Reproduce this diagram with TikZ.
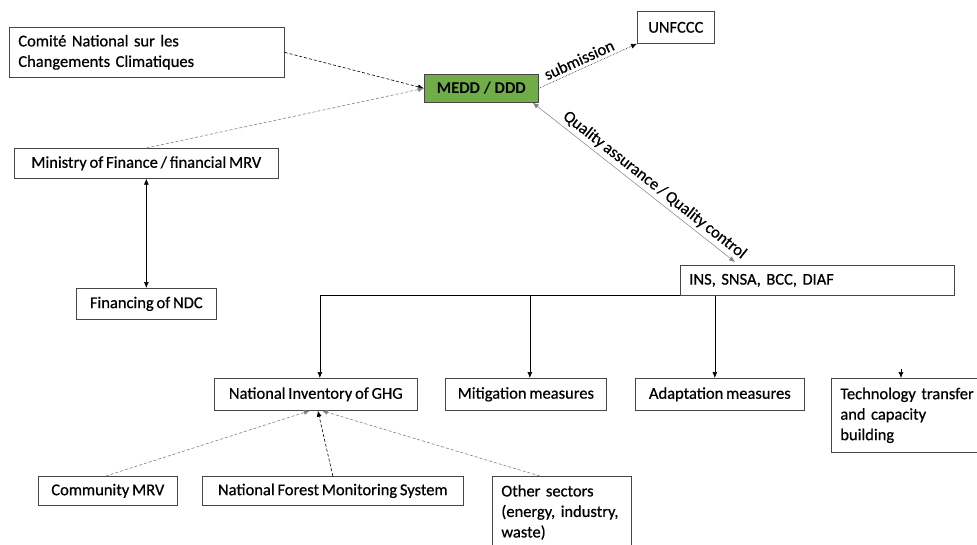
\documentclass[tikz,border=0pt]{standalone}
\usepackage{fontspec}
\setmainfont{Carlito}
\newfontfamily\boxfont[FakeBold=0.6, WordSpace=0.75]{Carlito}
\usetikzlibrary{arrows.meta,positioning}

\definecolor{meddgreen}{RGB}{112,173,71}
\definecolor{boxline}{RGB}{70,70,70}

\tikzset{
	box/.style = {draw = boxline, line width = 0.7pt, rectangle, anchor = north west,
		inner xsep = 9pt, inner ysep = 2pt, font = \boxfont\fontsize{16.5}{20.5}\selectfont},
	lbox/.style = {box, align = left},
	arr/.style = {-{Latex[length = 6pt, width = 5pt]}, line width = 0.6pt},
	dasharr/.style = {arr, dashed, dash pattern = on 3pt off 2pt},
	lbl/.style = {sloped, above, text = black, font = \boxfont\fontsize{16.5}{20}\selectfont}
}

\begin{document}
\begin{tikzpicture}[x = 1pt, y = -1pt]
	\useasboundingbox (0,0) rectangle (977,544);
	% boxes
	\node[lbox, text width = 257pt, minimum height = 50pt] (comite) at (9,27) {Comité National sur les\\Changements Climatiques};
	\node[box, fill = meddgreen, minimum width = 114pt, minimum height = 28pt, font = \fontsize{16.5}{18}\selectfont\bfseries] (medd) at (424,74) {MEDD / DDD};
	\node[box, minimum width = 77pt, minimum height = 32pt] (unfccc) at (637,11) {UNFCCC};
	\node[box, minimum width = 264pt, minimum height = 30pt] (ministry) at (14,148) {Ministry of Finance / financial MRV};
	\node[box, minimum width = 140pt, minimum height = 31pt] (financing) at (76,288) {Financing of NDC};
	\node[lbox, text width = 256pt, minimum height = 30pt] (ins) at (680,265) {INS, SNSA, BCC, DIAF};
	\node[box, minimum width = 203pt, minimum height = 32pt] (inv) at (214,378) {National Inventory of GHG};
	\node[box, minimum width = 161pt, minimum height = 32pt] (mitig) at (445,378) {Mitigation measures};
	\node[box, minimum width = 169pt, minimum height = 32pt] (adapt) at (635,378) {Adaptation measures};
	\node[lbox, text width = 150pt, minimum height = 74pt] (tech) at (831,378) {Technology transfer\\and capacity\\building};
	\node[box, minimum width = 139pt, minimum height = 29pt] (comm) at (38,476) {Community MRV};
	\node[box, minimum width = 261pt, minimum height = 29pt] (nfms) at (202,476) {National Forest Monitoring System};
	\node[lbox, text width = 121pt, minimum height = 72pt] (other) at (492,476) {Other sectors\\(energy, industry,\\waste)};
	\coordinate (techtop) at (901,369);

	% connectors
	\draw[dasharr] (comite.east) -- (medd.west);
	\draw[dasharr, gray] (ministry.north) -- (medd.west);
	\draw[arr, densely dotted, line width = 0.5pt] (medd.east) -- node[lbl, pos = 0.45] {submission} (unfccc.south west);
	\draw[{Latex[length = 6pt, width = 5pt]}-{Latex[length = 6pt, width = 5pt]}, gray, line width = 0.5pt] ([xshift = -6pt]medd.south east) -- node[lbl, pos = 0.57] {Quality assurance / Quality control} ([xshift = 55pt, yshift = 3pt]ins.north west);
	\draw[arr, {Latex[length = 6pt, width = 5pt]}-{Latex[length = 6pt, width = 5pt]}] (ministry.south) -- (financing.north);
	\draw[arr] (ins.south west) -| ([xshift = 4pt]inv.north);
	\draw[arr] ([xshift = 4pt]mitig.north |- ins.south) -- ([xshift = 4pt]mitig.north);
	\draw[arr] ([xshift = -5pt]adapt.north |- ins.south) -- ([xshift = -5pt]adapt.north);
	\draw[arr] (techtop) -- (techtop |- tech.north);
	\draw[dasharr, gray] ([xshift = -2pt]comm.north) -- ([xshift = -6pt]inv.south);
	\draw[dasharr] (nfms.north) -- ([xshift = 2pt]inv.south);
	\draw[dasharr, gray] ([xshift = -22pt]other.north) -- ([xshift = 6pt]inv.south);
\end{tikzpicture}
\end{document}
